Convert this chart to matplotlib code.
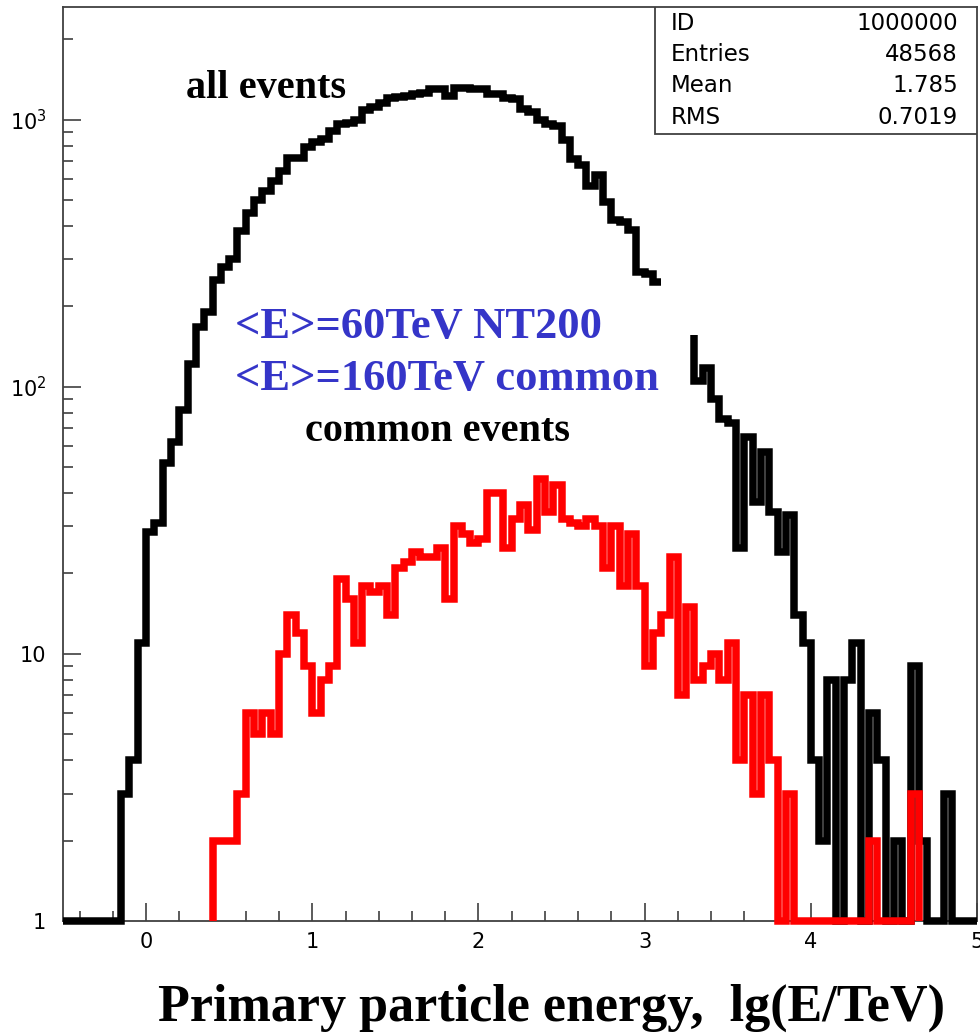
import numpy as np
import matplotlib
matplotlib.use('Agg')
import matplotlib.pyplot as plt
from matplotlib.patches import Rectangle
from matplotlib.ticker import FixedLocator, MultipleLocator, LogLocator, NullFormatter

bin_width = 0.05

# all events, bins starting at lg(E) = -0.50
all_lo_start = -0.50
all_lo = [1, 1, 1, 1, 1, 1, 1, 3, 4, 11,
          28.5, 31, 52, 62, 82, 122, 168, 191, 250, 281,
          302, 384, 449, 498, 542, 591, 644, 721, 721, 791,
          826, 849, 905, 962, 975, 995, 1090, 1115, 1150, 1200,
          1215, 1230, 1250, 1263, 1300, 1300, 1222, 1310, 1310, 1300,
          1300, 1250, 1245, 1200, 1195, 1100, 1070, 1000, 967, 943,
          840, 712, 678, 565, 620, 490, 420, 415, 385, 270,
          265, 247]

# all events after the hidden part, bins starting at 3.30
all_hi_start = 3.30
all_hi_top = 156
all_hi = [105, 118, 90, 76, 73, 25, 65, 37, 57, 34,
          24, 33, 14, 11, 4, 2, 8, 1, 8, 11,
          1, 6, 4, 1, 2, 1, 9, 2, 1, 1,
          3, 1, 1, 1]

# common events, bins starting at 0.40
common_start = 0.40
common = [2, 2, 2, 3, 6, 5, 6, 5, 10, 14, 12, 9,
          6, 8, 9, 19, 16, 11, 18, 17, 18, 14, 21, 22, 24, 23, 23, 25, 16, 30, 28, 26,
          27, 40, 40, 25, 32, 36, 29, 45, 34, 43, 32, 31, 30, 32, 30, 21, 30, 18, 28, 18,
          9, 12, 14, 23, 7, 15, 8, 9, 10, 8, 11, 4, 7, 3, 7, 4, 1, 3, 1, 1,
          1, 1, 1, 1, 1, 1, 1, 2, 1, 1, 1, 1, 3]

stats_labels = ['ID', 'Entries', 'Mean', 'RMS']
stats_values = ['1000000', '48568', '1.785', '0.7019']

x_ticks = [0, 1, 2, 3, 4, 5]
y_ticks = [1, 10, 100, 1000]
y_labels = ['1', '10', '$10^{2}$', '$10^{3}$']


def outline(start, vals):
	vals = np.asarray(vals, dtype=float)
	edges = start + bin_width * np.arange(len(vals) + 1)
	xs = np.repeat(edges, 2)[1:-1]
	ys = np.repeat(vals, 2)
	return edges, xs, ys


fig = plt.figure(figsize=(9.8, 10.33), dpi=100)
ax = fig.add_axes([63/980, 112/1033, 914/980, 914/1033])
ax.set_yscale('log')
ax.set_xlim(-0.5, 5.0)
ax.set_ylim(1, 2640)

line_kw = dict(lw=5.4, solid_joinstyle='miter', solid_capstyle='butt', clip_on=False)

# black: all events, two pieces
e, xs, ys = outline(all_lo_start, all_lo)
ax.plot(xs, ys, color='black', zorder=3, **line_kw)
e, xs, ys = outline(all_hi_start, all_hi)
xs = np.concatenate([[e[0]], xs])
ys = np.concatenate([[all_hi_top], ys])
ax.plot(xs, ys, color='black', zorder=3, **line_kw)

# red: common events
e, xs, ys = outline(common_start, common)
xs = np.concatenate([[e[0]], xs, [e[-1]]])
ys = np.concatenate([[1], ys, [1]])
ax.plot(xs, ys, color='#ff0000', zorder=4, **line_kw)

# axes look
for s in ax.spines.values():
	s.set_color('#404040')
	s.set_linewidth(1.3)
ax.xaxis.set_major_locator(FixedLocator(x_ticks))
ax.xaxis.set_minor_locator(MultipleLocator(0.2))
ax.set_yticks(y_ticks)
ax.set_yticklabels(y_labels)
ax.yaxis.set_minor_locator(LogLocator(base=10, subs=np.arange(2, 10)))
ax.yaxis.set_minor_formatter(NullFormatter())
ax.tick_params(which='both', direction='in', top=False, right=False, color='#404040', width=1.2)
ax.tick_params(which='major', length=13)
ax.tick_params(which='minor', length=7)
ax.tick_params(axis='x', labelsize=15, pad=8)
ax.tick_params(axis='y', labelsize=15, pad=12)

# texts
serif = 'Liberation Serif'
ax.text(0.1346, 0.9004, 'all events', transform=ax.transAxes, family=serif,
        fontweight='bold', fontsize=29, ha='left', va='baseline')
ax.text(0.1882, 0.6380, '<E>=60TeV NT200', transform=ax.transAxes, family=serif,
        fontweight='bold', fontsize=32, color='#3535c8', ha='left', va='baseline')
ax.text(0.1882, 0.5810, '<E>=160TeV common', transform=ax.transAxes, family=serif,
        fontweight='bold', fontsize=32, color='#3535c8', ha='left', va='baseline')
ax.text(0.2648, 0.5252, 'common events', transform=ax.transAxes, family=serif,
        fontweight='bold', fontsize=29, ha='left', va='baseline')

fig.text(552/980, 12/1033, 'Primary particle energy,  lg(E/TeV)', family=serif,
         fontweight='bold', fontsize=37.5, ha='center', va='baseline')

# statistics box
bx0 = (655 - 63) / 914
by0 = (921 - 134) / 914
ax.add_patch(Rectangle((bx0, by0), 1 - bx0, 1 - by0, transform=ax.transAxes,
                       facecolor='white', edgecolor='#404040', lw=1.3, zorder=6))
for i in range(len(stats_labels)):
	yy = (921 - 23 - 31.5 * i) / 914
	ax.text((671 - 63) / 914, yy, stats_labels[i], transform=ax.transAxes,
	        fontsize=16.5, ha='left', va='center', zorder=7)
	ax.text((958 - 63) / 914, yy, stats_values[i], transform=ax.transAxes,
	        fontsize=16.5, ha='right', va='center', zorder=7)

fig.savefig('out.png', dpi=100)
